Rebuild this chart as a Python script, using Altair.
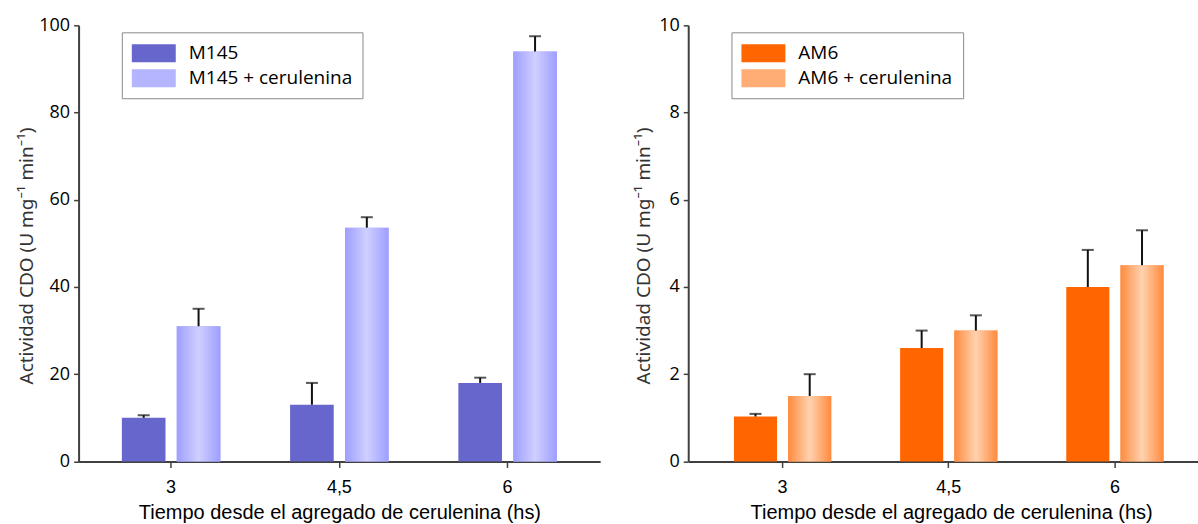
import altair as alt
import pandas as pd

times = ["3", "4,5", "6"]

m145_names = ["M145", "M145 + cerulenina"]
m145 = [10, 13, 18]
m145_err = [0.6, 5.0, 1.2]
m145_cer = [31, 53.6, 94]
m145_cer_err = [4.0, 2.4, 3.5]

am6_names = ["AM6", "AM6 + cerulenina"]
am6 = [1.03, 2.6, 4.0]
am6_err = [0.06, 0.4, 0.85]
am6_cer = [1.5, 3.0, 4.5]
am6_cer_err = [0.5, 0.35, 0.8]

y_title = "Actividad CDO (U mg\u207b\u00b9 min\u207b\u00b9)"
x_title = "Tiempo desde el agregado de cerulenina (hs)"


def make_df(names, a, ae, b, be):
    rows = []
    for i, t in enumerate(times):
        rows.append({"time": t, "series": names[0], "value": a[i], "hi": a[i] + ae[i]})
        rows.append({"time": t, "series": names[1], "value": b[i], "hi": b[i] + be[i]})
    return pd.DataFrame(rows)


def grad(edge, mid):
    return alt.LinearGradient(
        gradient="linear",
        stops=[
            alt.GradientStop(offset=0, color=edge),
            alt.GradientStop(offset=0.5, color=mid),
            alt.GradientStop(offset=1, color=edge),
        ],
        x1=0, x2=1, y1=0, y2=0,
    )


def panel(df, names, solid, legend_mid, g, ymax, ticks, width, pad_outer, align,
          title_x, ytitle_x, legend_x):
    x = alt.X(
        "time:N", sort=times,
        scale=alt.Scale(paddingInner=0, paddingOuter=pad_outer, align=align),
        axis=alt.Axis(title=x_title, labelAngle=0, titleX=title_x, titleY=57,
                      titleAlign="center", titleBaseline="alphabetic"),
    )
    xo = alt.XOffset("series:N", sort=names,
                     scale=alt.Scale(paddingInner=0.205, paddingOuter=0.635))
    yaxis = alt.Axis(title=y_title, values=ticks, grid=False, titleAngle=270,
                     titleX=ytitle_x, titleY=230.5, titleAlign="center",
                     titleBaseline="alphabetic")
    yscale = alt.Scale(domain=[0, ymax], nice=False, zero=True)
    y = alt.Y("value:Q", scale=yscale, axis=yaxis)
    base = alt.Chart(df)
    bars = base.mark_bar().encode(
        x=x, xOffset=xo, y=y,
        color=alt.Color(
            "series:N", sort=names,
            scale=alt.Scale(domain=names, range=[solid, legend_mid]),
            legend=alt.Legend(
                title=None, orient="none", legendX=legend_x, legendY=7,
                symbolType="M-2,-0.818L2,-0.818L2,0.818L-2,0.818Z",
                symbolSize=484, symbolOffset=11, labelOffset=24,
                symbolStrokeWidth=0, symbolOpacity=1,
                labelFont="Open Sans", labelFontSize=19, labelColor="#000000",
                padding=10, rowPadding=4, strokeColor="#8a8a8a",
                fillColor="#ffffff", labelLimit=400,
            ),
        ),
    )
    over = base.transform_filter(alt.datum.series == names[1]).mark_bar(fill=g).encode(
        x=x, xOffset=xo, y=y
    )
    err = base.mark_rule(color="#111111", strokeWidth=2).encode(
        x=x, xOffset=xo, y=y, y2="hi:Q"
    )
    cap = base.mark_tick(color="#111111", thickness=2, size=12).encode(
        x=x, xOffset=xo, y=alt.Y("hi:Q", scale=yscale, axis=yaxis)
    )
    return alt.layer(bars, over, err, cap).properties(width=width, height=436.7)


left = panel(
    make_df(m145_names, m145, m145_err, m145_cer, m145_cer_err),
    m145_names, "#6666cc", "#b4b4ff", grad("#9e9eff", "#cfcfff"),
    100, [0, 20, 40, 60, 80, 100], 522.3, 0.05, 0.5, 261.2, -46, 43.3,
)
right = panel(
    make_df(am6_names, am6, am6_err, am6_cer, am6_cer_err),
    am6_names, "#ff6600", "#ffad75", grad("#ff8a3d", "#ffd2b0"),
    10, [0, 2, 4, 6, 8, 10], 510.5, 0.034, 1, 263.3, -38.5, 43.3,
)

chart = alt.hconcat(left, right, spacing=33.5).resolve_scale(
    color="independent", xOffset="independent", x="independent", y="independent"
).resolve_legend(color="independent").properties(
    padding={"left": 16.7, "top": 16, "right": 0, "bottom": 0}
).configure_view(stroke=None).configure_axis(
    domainColor="#404040", domainWidth=2, tickColor="#404040", tickWidth=1.5,
    labelColor="#000000", titleColor="#333333", titleFontWeight="normal",
).configure_axisY(
    labelFont="Open Sans", labelFontSize=18, tickSize=5, labelPadding=4,
    titleFont="Noto Sans", titleFontSize=19,
).configure_axisX(
    labelFont="Liberation Sans", labelFontSize=18, tickSize=6, labelPadding=11,
    titleFont="Liberation Sans", titleFontSize=20, titleColor="#000000",
)

chart.save("out.html", embed_options={"renderer": "svg", "actions": False})
